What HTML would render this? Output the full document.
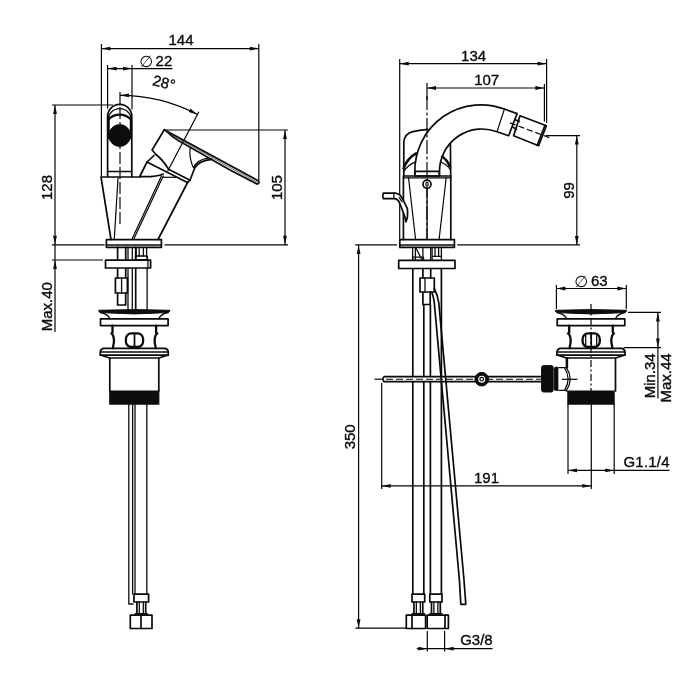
<!DOCTYPE html>
<html><head><meta charset="utf-8"><title>Technical drawing</title>
<style>
html,body{margin:0;padding:0;background:#fff}
svg{display:block;will-change:transform}
.k{fill:none;stroke:#0a0a0a;stroke-width:1.7;stroke-linejoin:round;stroke-linecap:round}
.k2{fill:none;stroke:#0a0a0a;stroke-width:2.3;stroke-linecap:round}
.k3{fill:none;stroke:#0a0a0a;stroke-width:2.6;stroke-linecap:butt}
.kw{fill:#fff;stroke:#0a0a0a;stroke-width:1.7;stroke-linejoin:round}
.m{fill:none;stroke:#0d0d0d;stroke-width:1.3;stroke-linejoin:round;stroke-linecap:round}
.t{fill:none;stroke:#050505;stroke-width:1.2}
.cs{fill:none;stroke:#050505;stroke-width:1.2;stroke-dasharray:6 3}
.c{fill:none;stroke:#050505;stroke-width:1.2;stroke-dasharray:14 2.5 3 2.5}
.h{fill:none;stroke:#222;stroke-width:0.7}
.cl{fill:none;stroke:#050505;stroke-width:1.2;stroke-dasharray:12 3}
.mw{fill:#fff;stroke:#0d0d0d;stroke-width:1.3;stroke-linejoin:round}
.cr{fill:none;stroke:#050505;stroke-width:1.1;stroke-dasharray:7 3}
.cd{fill:none;stroke:#050505;stroke-width:1.2;stroke-dasharray:7 2.5 2 2.5}
.b{fill:#0d0d0d;stroke:#0d0d0d;stroke-width:1}
.a{fill:#0d0d0d;stroke:none}
text{font-family:"Liberation Sans",sans-serif;font-size:15px;fill:#0a0a0a;stroke:#0a0a0a;stroke-width:0.35px}
.dia{font-family:"DejaVu Sans",sans-serif;font-size:16px;stroke:none}
</style></head><body>
<svg width="700" height="700" viewBox="0 0 700 700">
<rect x="0" y="0" width="700" height="700" fill="#fff"/>
<line class="t" x1="101.4" y1="44" x2="101.4" y2="176.5"/>
<line class="t" x1="258.8" y1="44" x2="258.8" y2="180"/>
<line class="t" x1="101.4" y1="48.6" x2="258.8" y2="48.6"/>
<polygon class="a" points="101.40,48.60 110.40,46.70 110.40,50.50"/>
<polygon class="a" points="258.80,48.60 249.80,50.50 249.80,46.70"/>
<text x="181" y="45.3" text-anchor="middle">144</text>
<line class="t" x1="107.6" y1="65" x2="107.6" y2="108.5"/>
<line class="t" x1="132" y1="65" x2="132" y2="109.5"/>
<line class="t" x1="107.6" y1="68.6" x2="172.5" y2="68.6"/>
<polygon class="a" points="107.60,68.60 116.60,66.70 116.60,70.50"/>
<polygon class="a" points="132.00,68.60 123.00,70.50 123.00,66.70"/>
<text x="139.13" y="66.7"><tspan class="dia">∅ </tspan><tspan x="155.6" y="65.6">22</tspan></text>
<text x="151.7" y="84.9" text-anchor="start" transform="rotate(14 151.7 84.9)">28°</text>
<path class="t" d="M120,95.29999999999998 A166.1,166.1 0 0 1 197.47,114.47"/>
<polygon class="a" points="120.00,95.30 129.00,93.40 129.00,97.20"/>
<polygon class="a" points="197.47,114.47 188.62,111.95 190.39,108.59"/>
<line class="t" x1="198.91" y1="111.73" x2="167.57" y2="171.17"/>
<line class="cl" x1="120" y1="92" x2="120" y2="224"/>
<line class="t" x1="52" y1="105" x2="113" y2="105"/>
<line class="t" x1="55" y1="105" x2="55" y2="332"/>
<polygon class="a" points="55.00,105.00 56.90,114.00 53.10,114.00"/>
<polygon class="a" points="55.00,244.80 53.10,235.80 56.90,235.80"/>
<polygon class="a" points="55.00,260.00 56.90,269.00 53.10,269.00"/>
<line class="t" x1="52" y1="244.8" x2="104.6" y2="244.8"/>
<line class="t" x1="52" y1="260" x2="103" y2="260"/>
<text x="52.4" y="187.5" text-anchor="middle" transform="rotate(-90 52.4 187.5)">128</text>
<text x="52" y="306.7" text-anchor="middle" transform="rotate(-90 52 306.7)">Max.40</text>
<line class="t" x1="165" y1="130" x2="288" y2="130"/>
<line class="t" x1="164.5" y1="244.8" x2="288" y2="244.8"/>
<line class="t" x1="285" y1="130" x2="285" y2="244.8"/>
<polygon class="a" points="285.00,130.00 286.90,139.00 283.10,139.00"/>
<polygon class="a" points="285.00,244.80 283.10,235.80 286.90,235.80"/>
<text x="282.1" y="187.6" text-anchor="middle" transform="rotate(-90 282.1 187.6)">105</text>
<path class="k" d="M107.6,176.5 V116.4 A12.1,12.1 0 0 1 131.8,116.4 V176.5"/>
<line class="k" x1="107.6" y1="171.5" x2="131.8" y2="171.5"/>
<path class="m" d="M107.8,120.6 A11.9,11.9 0 0 1 131.6,120.6"/>
<path class="k2" d="M108.4,119.5 A15.4,15.4 0 0 1 130.9,119.5"/>
<path class="k2" d="M108.6,117 V138 M130.9,117 V138"/>
<circle class="b" cx="119.7" cy="135.5" r="10.9"/>
<path class="k" d="M164.3,129.7 L152.1,150 L156,154.5 Q163,160 168.6,169.3 L190,180.2 L194.6,168.2"/>
<path class="k" d="M164.3,129.7 L258.6,180.9 Q259.9,183.2 257,184.1 L230,170 L180,141.6 L172,136.2 L165.6,130.6"/>
<path class="h" d="M168,132.2 L180,139.6 L230,167.5 L257.6,182.4"/>
<path class="t" d="M190.2,147.3 Q188.8,158 193.5,168"/>
<path class="k" d="M194.6,168.2 Q198.5,160.6 212,159.4"/>
<path class="t" d="M193.4,167.6 Q197.6,159.6 208,158.2"/>
<path class="k" d="M154,155.5 L147,162 L187.4,182.6 L190,180.2"/>
<path class="k" d="M147,162 L140,176"/>
<path class="k" d="M140,176.6 Q156,177.3 163,174"/>
<line class="t" x1="163" y1="177.3" x2="176" y2="177.3"/>
<path class="k" d="M101,177 H140 M101,177 L111,239.5 M187.6,182.5 L158,239.5"/>
<line class="t" x1="118" y1="178" x2="114.3" y2="239"/>
<line class="t" x1="161.7" y1="175.6" x2="132" y2="239"/>
<line class="t" x1="163.5" y1="175.6" x2="133.8" y2="239"/>
<rect class="k" x="106.4" y="239.6" width="55.0" height="7.7"/>
<line class="k" x1="106.4" y1="245" x2="161.4" y2="245"/>
<path class="k" d="M117.6,247.3 V260 M125.7,247.3 V260"/>
<path class="m" d="M128,247.3 V310 M132.3,247.3 V310"/>
<path class="k" d="M135.7,247.3 V310"/>
<path class="m" d="M136.2,247.3 V256 M139.2,247.3 V256 M143.4,247.3 V256 M146.6,247.3 V256"/>
<rect class="k" x="135.7" y="256" width="11.4" height="3.8"/>
<path class="k" d="M117.6,268 V278 M125.7,268 V278 M117.6,293 V305 H125.7 V293"/>
<rect class="k" x="115.4" y="278" width="12.0" height="15"/>
<line class="m" x1="121.6" y1="278" x2="121.6" y2="293"/>
<path class="m" d="M147.1,268 V310"/>
<rect class="kw" x="105.5" y="260.2" width="45.1" height="7.8"/>
<line class="m" x1="147.9" y1="260.2" x2="147.9" y2="268"/>
<path class="b" d="M98.8,310.3 L134.3,309.6 L169.8,310.3 Q170.8,311.5 167.3,312.6 Q134.3,315.3 101.3,312.6 Q97.8,311.5 98.8,310.3 Z"/>
<path class="m" d="M100.3,312.5 Q107.3,313.5 109.8,318.6 M168.3,312.5 Q161.3,313.5 158.8,318.6"/>
<rect class="k" x="100.5" y="318.8" width="67.6" height="6.8"/>
<path class="k2" d="M112.5,325.6 V332.3 L111.5,333.4 L112.7,334.8 Q115.1,340 113.1,346.5 V348.3"/>
<path class="k2" d="M156.1,325.6 V332.3 L157.1,333.4 L155.9,334.8 Q153.5,340 155.5,346.5 V348.3"/>
<rect class="k2" x="125.9" y="333.4" width="17.2" height="13.6" rx="5.5"/>
<line class="k" x1="134.5" y1="333.6" x2="134.5" y2="347"/>
<path class="k" d="M103.3,348.4 H165.3 Q168.3,349.5 168.3,352 V355 L158.8,358 H109.8 L100.3,355 V352 Q100.3,349.5 103.3,348.4 Z"/>
<line class="m" x1="100.3" y1="352" x2="168.3" y2="352"/>
<line class="k" x1="100.3" y1="355.2" x2="168.3" y2="355.2"/>
<path class="k" d="M109.8,358 V391 M158.8,358 V391"/>
<rect class="b" x="109.7" y="391" width="49.2" height="13.2"/>
<path class="m" d="M128.8,404 V604 H133 M132.6,404 V594 M135,404 V594"/>
<path class="m" d="M146.8,404 V594"/>
<rect class="k" x="134.0" y="594.2" width="14.6" height="7.8"/>
<path class="k" d="M136.9,602 V613 M145.70000000000002,602 V613"/>
<path class="m" d="M139.3,602 V613 M143.3,602 V613"/>
<path class="k" d="M135.3,613.8 H147.3"/>
<rect class="k" x="130.3" y="615.2" width="21.7" height="13.3"/>
<line class="k" x1="141" y1="615.2" x2="141" y2="628.5"/>
<line class="t" x1="399.7" y1="59" x2="399.7" y2="240"/>
<line class="t" x1="546.6" y1="59" x2="546.6" y2="123"/>
<line class="t" x1="399.7" y1="63.7" x2="546.6" y2="63.7"/>
<polygon class="a" points="399.70,63.70 408.70,61.80 408.70,65.60"/>
<polygon class="a" points="546.60,63.70 537.60,65.60 537.60,61.80"/>
<text x="473.6" y="60.9" text-anchor="middle">134</text>
<line class="t" x1="427" y1="83" x2="427" y2="100"/>
<line class="t" x1="544.4" y1="84" x2="544.4" y2="121.5"/>
<line class="t" x1="427" y1="88" x2="544.4" y2="88"/>
<polygon class="a" points="427.00,88.00 436.00,86.10 436.00,89.90"/>
<polygon class="a" points="544.40,88.00 535.40,89.90 535.40,86.10"/>
<text x="486.7" y="84.8" text-anchor="middle">107</text>
<line class="c" x1="427" y1="96" x2="427" y2="239"/>
<line class="t" x1="546" y1="135.6" x2="580" y2="135.6"/>
<line class="t" x1="457.2" y1="244.9" x2="580" y2="244.9"/>
<line class="t" x1="576.8" y1="135.6" x2="576.8" y2="244.9"/>
<polygon class="a" points="576.80,135.60 578.70,144.60 574.90,144.60"/>
<polygon class="a" points="576.80,244.90 574.90,235.90 578.70,235.90"/>
<text x="574.2" y="190.5" text-anchor="middle" transform="rotate(-90 574.2 190.5)">99</text>
<line class="t" x1="355.3" y1="244.9" x2="397" y2="244.9"/>
<line class="t" x1="355.3" y1="628.2" x2="406" y2="628.2"/>
<line class="t" x1="358.6" y1="244.9" x2="358.6" y2="628.2"/>
<polygon class="a" points="358.60,244.90 360.50,253.90 356.70,253.90"/>
<polygon class="a" points="358.60,628.20 356.70,619.20 360.50,619.20"/>
<text x="355.5" y="436.8" text-anchor="middle" transform="rotate(-90 355.5 436.8)">350</text>
<path class="k" d="M414.8,175.7 V171 A66.2,66.2 0 0 1 504.40,109.07 L517.1,113.6 L508.6,135.7 L497.02,131.74 A42.5,42.5 0 0 0 439.5,171.5 V175.7"/>
<line class="t" x1="504.4" y1="109.07" x2="497.02" y2="131.74"/>
<rect class="k" x="414.9" y="171.4" width="24.3" height="4.6"/>
<path class="k" d="M515.7,120 L519.3,121.4 M512.9,127.1 L516.4,129.3"/>
<path class="k" d="M520,115.7 L546.4,125.7 L538.6,145.7 L513.6,135.7 Z"/>
<path class="k" d="M545,125.2 L537.2,145.2"/>
<line class="cs" x1="510" y1="122.9" x2="550" y2="137.9"/>
<path class="k" d="M403.8,176 V142 C404.3,137 407,133.3 412,131.9 Q419,130 427.8,129.3 M450.4,143.6 L450.7,176"/>
<path class="k3" d="M403.3,169.2 Q407,158 417,152.8"/>
<path class="m" d="M404.3,170.8 Q408,164.8 415.5,161.8"/>
<path class="k3" d="M441.4,156 Q447.5,160 450.2,167"/>
<path class="m" d="M440.5,162 Q446.5,164 449.8,169"/>
<path class="k" d="M403.4,176 V239.5 M450.8,176 V239.5 M403.4,176 H450.8"/>
<line class="t" x1="403.4" y1="177.8" x2="450.8" y2="177.8"/>
<line class="t" x1="408.5" y1="177.5" x2="415.6" y2="239.5"/>
<line class="t" x1="446.2" y1="177.5" x2="439.1" y2="239.5"/>
<line class="t" x1="427" y1="188.5" x2="427" y2="239.5"/>
<circle class="kw" cx="427" cy="184.2" r="4"/>
<ellipse class="t" cx="427" cy="184.2" rx="1.1" ry="2.2"/>
<path class="kw" d="M395.5,193.2 H383.3 Q382.2,195.9 383.3,198.6 H395 Q398.2,199.3 399.6,203 L404.9,216.8 L405.9,221.8 Q408,217.5 407.6,212.5 L407.4,208.6 L402.6,198.9 Q400,193.8 395.5,193.2 Z"/>
<line class="m" x1="393.9" y1="193.2" x2="393.9" y2="198.6"/>
<line class="m" x1="399.4" y1="197.6" x2="402" y2="201.6"/>
<rect class="k" x="399.8" y="239.7" width="54.6" height="7.7"/>
<line class="k" x1="399.8" y1="245" x2="454.4" y2="245"/>
<path class="m" d="M412.6,247.4 V260 M415.4,247.4 V260 M422.9,247.4 V260 M430.7,247.4 V260"/>
<path class="m" d="M416,248 L421.5,259"/>
<path class="m" d="M432.1,247.4 V260 M435,247.4 V256.4 M438.6,247.4 V256.4 M441.4,247.4 V260 M432.1,256.4 H441.4"/>
<rect class="m" x="412.8" y="257.2" width="10.7" height="3.2"/>
<rect class="k" x="398.7" y="260.4" width="56.3" height="8.1"/>
<path class="k" d="M412.8,268.5 V594 M423.8,305 V594 M430.4,305 V594 M441.4,268.5 V594"/>
<path class="k" d="M422.9,268.5 V278 M430.7,268.5 V278 M422.9,292 V304.5 H430.2 V292"/>
<rect class="k" x="420" y="278" width="14.3" height="14"/>
<line class="m" x1="425" y1="278" x2="425" y2="292"/>
<rect class="k" x="412.0" y="594.2" width="12.7" height="7.8"/>
<path class="k" d="M413.95000000000005,602 V613 M422.75,602 V613"/>
<path class="m" d="M416.35,602 V613 M420.35,602 V613"/>
<path class="k" d="M412.35,613.8 H424.35"/>
<rect class="k" x="406.3" y="615.2" width="19.3" height="13.3"/>
<line class="k" x1="412" y1="615.2" x2="412" y2="628.5"/>
<rect class="k" x="429.79999999999995" y="594.2" width="12.2" height="7.8"/>
<path class="k" d="M431.5,602 V613 M440.29999999999995,602 V613"/>
<path class="m" d="M433.9,602 V613 M437.9,602 V613"/>
<path class="k" d="M429.9,613.8 H441.9"/>
<rect class="k" x="427.2" y="615.2" width="21.2" height="13.3"/>
<line class="k" x1="445" y1="615.2" x2="445" y2="628.5"/>
<line class="t" x1="427.3" y1="631" x2="427.3" y2="651.5"/>
<line class="t" x1="444.6" y1="631" x2="444.6" y2="651.5"/>
<line class="t" x1="416.7" y1="648.7" x2="492.5" y2="648.7"/>
<polygon class="a" points="427.30,648.70 418.30,650.60 418.30,646.80"/>
<polygon class="a" points="444.60,648.70 453.60,646.80 453.60,650.60"/>
<text x="460.2" y="645.3" text-anchor="start">G3/8</text>
<line class="t" x1="374.5" y1="379.2" x2="384" y2="379.2"/>
<path class="kw" d="M541.6,376.7 H384 Q381.8,379.2 384,381.7 H541.6"/>
<line class="cr" x1="386" y1="379.2" x2="541" y2="379.2"/>
<circle class="b" cx="481.7" cy="379.2" r="6.8"/>
<circle cx="481.7" cy="379.2" r="3.5" fill="#fff"/>
<circle class="t" cx="481.7" cy="379.2" r="1.8"/>
<path class="k" d="M434.3,288.5 Q437.6,295 438.8,302.9 L464,580 L465.8,604.3 H460.8 L459.4,580 L434.3,302.9 Q433.6,297 432,292.6"/>
<line class="t" x1="381.7" y1="383" x2="381.7" y2="489"/>
<line class="t" x1="591.3" y1="404" x2="591.3" y2="489"/>
<line class="t" x1="381.7" y1="485.9" x2="591.3" y2="485.9"/>
<polygon class="a" points="381.70,485.90 390.70,484.00 390.70,487.80"/>
<polygon class="a" points="591.30,485.90 582.30,487.80 582.30,484.00"/>
<text x="486.5" y="483" text-anchor="middle">191</text>
<line class="cd" x1="591" y1="304" x2="591" y2="404"/>
<path class="b" d="M555.5,310.3 L591,309.6 L626.5,310.3 Q627.5,311.5 624,312.6 Q591,315.3 558,312.6 Q554.5,311.5 555.5,310.3 Z"/>
<path class="m" d="M557,312.5 Q564,313.5 566.5,318.6 M625,312.5 Q618,313.5 615.5,318.6"/>
<rect class="k" x="557.2" y="318.8" width="67.6" height="6.8"/>
<path class="k2" d="M569.2,325.6 V332.3 L568.2,333.4 L569.4,334.8 Q571.8,340 569.8,346.5 V348.3"/>
<path class="k2" d="M612.8,325.6 V332.3 L613.8,333.4 L612.6,334.8 Q610.2,340 612.2,346.5 V348.3"/>
<rect class="k2" x="582.6" y="333.4" width="17.2" height="13.6" rx="5.5"/>
<line class="k" x1="591.2" y1="333.6" x2="591.2" y2="347"/>
<line class="m" x1="585.7" y1="335" x2="585.7" y2="345.5"/>
<line class="m" x1="596.7" y1="335" x2="596.7" y2="345.5"/>
<path class="k" d="M560,348.4 H622 Q625,349.5 625,352 V355 L615.5,358 H566.5 L557,355 V352 Q557,349.5 560,348.4 Z"/>
<line class="m" x1="557" y1="352" x2="625" y2="352"/>
<line class="k" x1="557" y1="355.2" x2="625" y2="355.2"/>
<path class="k" d="M566.5,358 V391 M615.5,358 V391"/>
<rect class="b" x="567.8" y="391" width="46.4" height="13.2"/>
<rect class="b" x="541.6" y="365.6" width="11.6" height="26.4" rx="2"/>
<rect class="b" x="554.6" y="367.2" width="3.8" height="23.2" rx="0.8"/>
<path class="mw" d="M558.4,367.6 H566.4 Q574,379 566.4,390.4 H558.4"/>
<path class="t" d="M564.6,368 Q571.6,379 564.6,390"/>
<path class="k" d="M567.3,358 V367.4"/>
<line class="t" x1="562" y1="379.3" x2="577.5" y2="379.3"/>
<line class="t" x1="556.4" y1="285" x2="556.4" y2="309"/>
<line class="t" x1="626.3" y1="285" x2="626.3" y2="309"/>
<line class="t" x1="556.4" y1="288.5" x2="626.3" y2="288.5"/>
<polygon class="a" points="556.40,288.50 565.40,286.60 565.40,290.40"/>
<polygon class="a" points="626.30,288.50 617.30,290.40 617.30,286.60"/>
<text x="574.33" y="286.7"><tspan class="dia">∅ </tspan><tspan x="591" y="285.6">63</tspan></text>
<line class="t" x1="628" y1="312.4" x2="661" y2="312.4"/>
<line class="t" x1="623.7" y1="347.6" x2="661" y2="347.6"/>
<line class="t" x1="657.9" y1="312.4" x2="657.9" y2="398.6"/>
<polygon class="a" points="657.90,312.40 659.80,321.40 656.00,321.40"/>
<polygon class="a" points="657.90,347.60 656.00,338.60 659.80,338.60"/>
<text x="655" y="353.3" text-anchor="end" transform="rotate(-90 655 353.3)">Min.34</text>
<text x="671" y="353.3" text-anchor="end" transform="rotate(-90 671 353.3)">Max.44</text>
<line class="t" x1="568" y1="404" x2="568" y2="474"/>
<line class="t" x1="614.2" y1="404" x2="614.2" y2="474"/>
<line class="t" x1="568" y1="470.4" x2="669.5" y2="470.4"/>
<polygon class="a" points="568.00,470.40 577.00,468.50 577.00,472.30"/>
<polygon class="a" points="614.20,470.40 605.20,472.30 605.20,468.50"/>
<text x="623.5" y="467.3" text-anchor="start" letter-spacing="0.2">G1.1/4</text>
</svg>
</body></html>
